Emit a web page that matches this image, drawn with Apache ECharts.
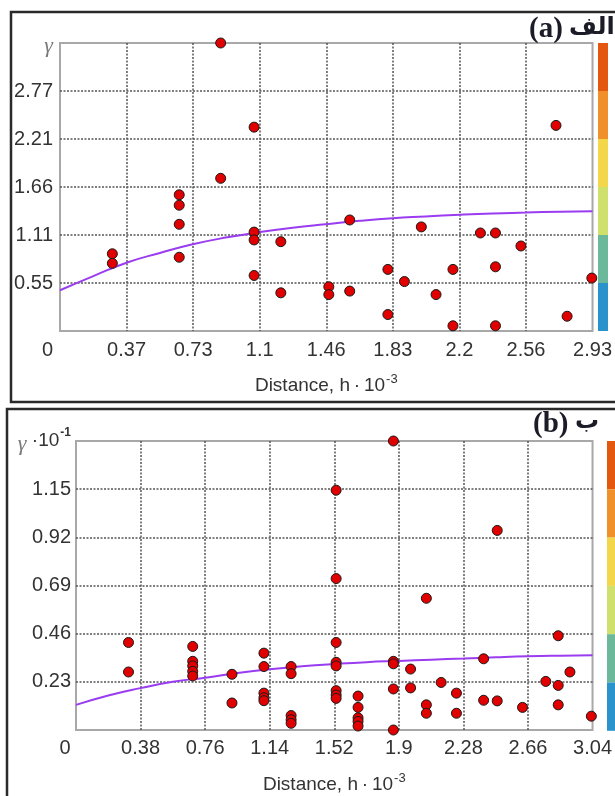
<!DOCTYPE html>
<html><head><meta charset="utf-8">
<script src="https://cdn.jsdelivr.net/npm/echarts@6/dist/echarts.min.js"></script>
<style>html,body{margin:0;padding:0;background:#fff;}#c{width:615px;height:796px;}</style>
</head><body><div id="c"></div>
<script>
// ---- tick labels ----
const xTopTicks = ['0','0.37','0.73','1.1','1.46','1.83','2.2','2.56','2.93'];
const yTopTicks = ['','0.55','1.11','1.66','2.21','2.77','γ'];
const xBotTicks = ['0','0.38','0.76','1.14','1.52','1.9','2.28','2.66','3.04'];
const yBotTicks = ['','0.23','0.46','0.69','0.92','1.15','γ·10-1'];

// ---- panel (a): experimental variogram points ----
const topPointsX = [0.884,1.068,2.729,0.884,0.656,0.656,0.656,0.656,0.288,0.288,1.068,1.068,1.068,1.215,1.215,1.479,1.479,1.594,1.594,1.804,1.804,1.895,1.988,2.069,2.162,2.162,2.313,2.396,2.396,2.396,2.536,2.790,2.926];
const topPointsY = [3.32,2.35,2.37,1.76,1.57,1.45,1.23,0.85,0.89,0.78,1.14,1.05,0.64,1.03,0.44,0.51,0.42,1.28,0.46,0.71,0.19,0.57,1.20,0.42,0.71,0.06,1.13,1.13,0.74,0.06,0.98,0.17,0.61];
// ---- panel (a): fitted model curve ----
const topCurveX = [0,0.18,0.37,0.55,0.73,0.92,1.1,1.28,1.46,1.65,1.83,2.01,2.2,2.38,2.56,2.75,2.93];
const topCurveY = [0.47,0.63,0.79,0.90,1.00,1.08,1.14,1.19,1.23,1.27,1.30,1.32,1.34,1.355,1.365,1.375,1.38];

// ---- panel (b): experimental variogram points ----
const botPointsX = [1.868,1.531,2.479,1.531,2.062,2.838,0.309,0.309,0.687,0.687,0.687,0.687,0.687,0.918,0.918,1.106,1.106,1.106,1.106,1.106,1.266,1.266,1.266,1.266,1.266,1.531,1.531,1.531,1.531,1.531,1.531,1.66,1.66,1.66,1.66,1.66,1.868,1.868,1.868,1.868,1.969,1.969,2.062,2.062,2.149,2.239,2.239,2.399,2.399,2.479,2.628,2.765,2.838,2.838,2.907,3.033];
const botPointsY = [1.38,1.145,0.953,0.723,0.629,0.450,0.418,0.277,0.399,0.328,0.306,0.280,0.258,0.266,0.129,0.367,0.303,0.176,0.154,0.140,0.303,0.269,0.069,0.049,0.032,0.418,0.323,0.306,0.188,0.167,0.151,0.162,0.108,0.058,0.041,0.019,0.328,0.316,0.196,0.0,0.291,0.201,0.120,0.080,0.227,0.176,0.080,0.340,0.142,0.139,0.108,0.232,0.213,0.120,0.277,0.066];
// ---- panel (b): fitted model curve ----
const botCurveX = [0,0.19,0.38,0.57,0.76,0.95,1.14,1.33,1.52,1.71,1.9,2.09,2.28,2.47,2.66,2.85,3.04];
const botCurveY = [0.12,0.165,0.20,0.23,0.25,0.272,0.29,0.304,0.315,0.324,0.33,0.336,0.341,0.347,0.352,0.355,0.357];

// ---- colour-scale strip colours (top to bottom) ----
const stripColors = ['#e4570e','#ef902a','#f4d64b','#cfe06d','#6cb89b','#2b93cc'];

const topXMax = 2.93, topYMax = 3.32, botXMax = 3.04, botYMax = 1.38;
const topXStep = topXMax/8, topYStep = topYMax/6, botXStep = botXMax/8, botYStep = botYMax/6;

const FONT = 'Liberation Sans, Arial, sans-serif';
const labelBase = {fontFamily: FONT, fontSize: 20, color: '#333'};

function xAxisCfg(gridIndex, max, step, ticks, zeroPad, margin) {
  return {
    type: 'value', gridIndex, min: 0, max, interval: step,
    axisLine: {show: false}, axisTick: {show: false},
    splitLine: {show: true, showMinLine: false, showMaxLine: false, lineStyle: {type: [2, 1.5], color: '#555', width: 1.5}},
    axisLabel: Object.assign({}, labelBase, {
      margin,
      formatter: v => { const i = Math.round(v/step); return i === 0 ? '{z|0}' : ticks[i]; },
      rich: {z: Object.assign({}, labelBase, {padding: [0, zeroPad, 0, 0]})}
    }),
    name: 'Distance, h\u2009·\u200910{s|-3}', nameLocation: 'middle',
    nameTextStyle: {fontFamily: FONT, fontSize: 19, color: '#333',
      rich: {s: {fontFamily: FONT, fontSize: 13, color: '#333', verticalAlign: 'top', padding: [0,0,12,1]}}}
  };
}

function yAxisCfg(gridIndex, max, step, ticks, topRich, margin) {
  return {
    type: 'value', gridIndex, min: 0, max, interval: step,
    axisLine: {show: false}, axisTick: {show: false},
    splitLine: {show: true, showMinLine: false, showMaxLine: false, lineStyle: {type: [2, 1.5], color: '#555', width: 1.5}},
    axisLabel: Object.assign({}, labelBase, {
      margin,
      formatter: v => { const i = Math.round(v/step); return i === ticks.length-1 ? topRich : ticks[i]; },
      rich: {
        g: {fontFamily: 'Liberation Serif, serif', fontStyle: 'italic', fontSize: 22, color: '#7a7a7a', padding: [6,0,0,0]},
        d: Object.assign({}, labelBase, {fontSize: 19}),
        s: {fontFamily: FONT, fontSize: 12, fontWeight: 'bold', color: '#333', verticalAlign: 'top', padding: [0,0,12,1]}
      }
    })
  };
}

const chart = echarts.init(document.getElementById('c'), null, {renderer: 'canvas'});

const stripRects = [];
stripColors.forEach((c, i) => {
  stripRects.push({type: 'rect', shape: {x: 598, y: 43 + i*48, width: 10, height: 48}, style: {fill: c}, z: 1});
  stripRects.push({type: 'rect', shape: {x: 607, y: 441 + i*48.3, width: 10, height: 48.3}, style: {fill: c}, z: 1});
});

chart.setOption({
  animation: false,
  backgroundColor: '#fff',
  grid: [
    {left: 60, top: 43, width: 533, height: 288, show: true, borderColor: '#a8a8a8', borderWidth: 2, backgroundColor: 'transparent'},
    {left: 76, top: 441, width: 523, height: 289, show: true, borderColor: '#a8a8a8', borderWidth: 2, backgroundColor: 'transparent'}
  ],
  xAxis: [
    Object.assign(xAxisCfg(0, topXMax, topXStep, xTopTicks, 25, 9), {nameGap: 42}),
    Object.assign(xAxisCfg(1, botXMax, botXStep, xBotTicks, 22, 8), {nameGap: 42})
  ],
  yAxis: [
    yAxisCfg(0, topYMax, topYStep, yTopTicks, '{g|γ}', 7),
    yAxisCfg(1, botYMax, botYStep, yBotTicks, '{g|γ} {d|·10}{s|-1}', 5)
  ],
  series: [
    {type: 'line', xAxisIndex: 0, yAxisIndex: 0, data: topCurveX.map((x,i)=>[x, topCurveY[i]]),
     smooth: true, showSymbol: false, lineStyle: {color: '#9a3cf0', width: 2}, z: 2},
    {type: 'scatter', xAxisIndex: 0, yAxisIndex: 0, data: topPointsX.map((x,i)=>[x, topPointsY[i]]),
     symbolSize: 10, clip: false, itemStyle: {color: '#e00000', borderColor: '#1a1a1a', borderWidth: 1, opacity: 1}, z: 3},
    {type: 'line', xAxisIndex: 1, yAxisIndex: 1, data: botCurveX.map((x,i)=>[x, botCurveY[i]]),
     smooth: true, showSymbol: false, lineStyle: {color: '#9a3cf0', width: 2}, z: 2},
    {type: 'scatter', xAxisIndex: 1, yAxisIndex: 1, data: botPointsX.map((x,i)=>[x, botPointsY[i]]),
     symbolSize: 10, clip: false, itemStyle: {color: '#e00000', borderColor: '#1a1a1a', borderWidth: 1, opacity: 1}, z: 3}
  ],
  graphic: [
    {type: 'rect', shape: {x: 11, y: 12, width: 640, height: 390}, style: {fill: 'none', stroke: '#2a2a2a', lineWidth: 2.5}, z: 0},
    {type: 'rect', shape: {x: 7, y: 409, width: 640, height: 420}, style: {fill: 'none', stroke: '#2a2a2a', lineWidth: 2.5}, z: 0},
    ...stripRects,
    {type: 'text', x: 529, y: 30, style: {text: '(a)', font: 'bold 29px "Liberation Serif", serif', fill: '#1c1c28', verticalAlign: 'middle', align: 'left'}, z: 5},
    {type: 'text', x: 569, y: 28, style: {text: 'الف', font: 'bold 24px "DejaVu Sans", sans-serif', fill: '#1c1c28', verticalAlign: 'middle', align: 'left'}, z: 5},
    {type: 'text', x: 533, y: 425, style: {text: '(b)', font: 'bold 29px "Liberation Serif", serif', fill: '#1c1c28', verticalAlign: 'middle', align: 'left'}, z: 5},
    {type: 'text', x: 575, y: 422, style: {text: 'ب', font: 'bold 24px "DejaVu Sans", sans-serif', fill: '#1c1c28', verticalAlign: 'middle', align: 'left'}, z: 5}
  ]
});
</script>
</body></html>
